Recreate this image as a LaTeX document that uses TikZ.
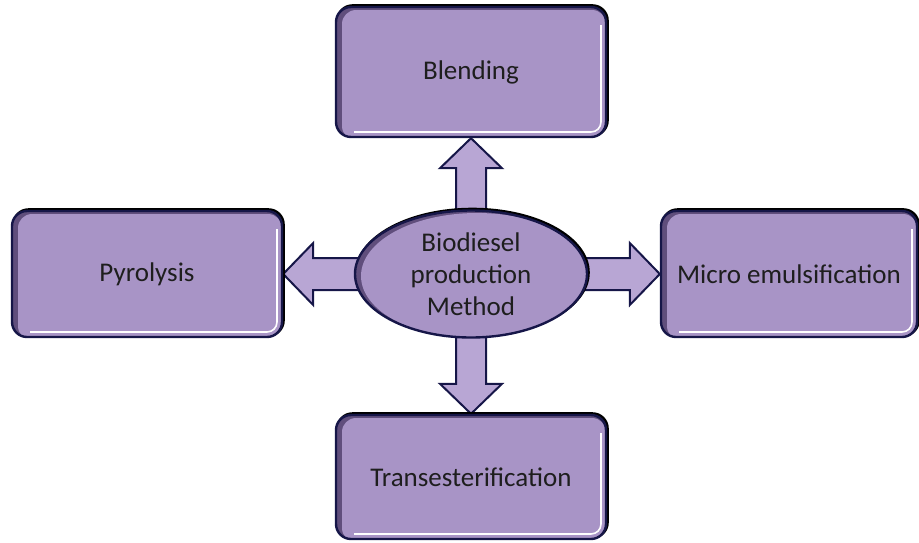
\documentclass[tikz,border=0pt]{standalone}
\usepackage{fontspec}
\setmainfont{Carlito}
\usetikzlibrary{shapes.geometric,backgrounds,calc}

\definecolor{boxfill}{RGB}{168,148,198}
\definecolor{arrowfill}{RGB}{184,166,212}
\definecolor{boxline}{RGB}{22,22,72}
\definecolor{boxshade}{RGB}{96,78,124}
\definecolor{labeltext}{RGB}{30,30,30}

\tikzset{
  methodbox/.style={draw=boxline, line width=2.4pt, fill=boxfill, rounded corners=15pt,
    minimum width=270pt, minimum height=126pt, inner sep=0pt, text=labeltext,
    font=\fontsize{27}{32}\selectfont,
    preaction={draw=black, line width=2.6pt, transform canvas={xshift=1.5pt,yshift=1.5pt}},
    path picture={
      % dark rim on the left, white rim on the right and bottom
      \fill[boxshade] (path picture bounding box.south west) rectangle (path picture bounding box.north east);
      \fill[boxfill, rounded corners=14pt] ([xshift=6pt,yshift=-3pt]path picture bounding box.south west)
        rectangle ([yshift=-3pt]path picture bounding box.north east);
      \draw[white, line width=1.6pt, rounded corners=10pt]
        ([xshift=-5pt,yshift=-18pt]path picture bounding box.north east)
        -- ([xshift=-5pt,yshift=5pt]path picture bounding box.south east)
        -- ([xshift=18pt,yshift=5pt]path picture bounding box.south west);
    }},
  centre/.style={ellipse, draw=boxline, line width=2.4pt, fill=boxfill,
    minimum width=232pt, minimum height=127pt, inner sep=0pt, align=center,
    text=labeltext, font=\fontsize{27}{32}\selectfont,
    preaction={draw=black, line width=2.6pt, transform canvas={xshift=1.5pt,yshift=1.5pt}},
    path picture={
      \fill[boxshade] (path picture bounding box.south west) rectangle (path picture bounding box.north east);
      \fill[boxfill] ([xshift=6pt,yshift=-2pt]path picture bounding box.center) ellipse (116pt and 63pt);
    }},
  fatarrow/.style={fill=arrowfill, draw=boxline, line width=2pt, line join=miter},
}

\begin{document}
\begin{tikzpicture}[x=1pt, y=-1pt]
  \useasboundingbox (0,0) rectangle (919,542);

  % the four methods round the centre
  \node[methodbox, minimum height=130pt] (blend) at (471,72) {Blending};
  \node[methodbox] (pyro) at (147,274) {Pyrolysis};
  \node[methodbox, minimum width=256pt] (micro) at (789,274) {Micro emulsification};
  \node[methodbox, minimum height=124pt] (trans) at (471,477) {Transesterification};

  \node[centre] (core) at (471,274) {Biodiesel\\production\\Method};

  % block arrows, drawn under the ellipse
  \begin{scope}[on background layer]
    % up
    \draw[fatarrow] ([xshift=-15pt,yshift=-8pt]core.north)
      -- ([xshift=-15pt,yshift=-30pt]blend.south) -- ([xshift=-31pt,yshift=-30pt]blend.south)
      -- (blend.south)
      -- ([xshift=31pt,yshift=-30pt]blend.south) -- ([xshift=15pt,yshift=-30pt]blend.south)
      -- ([xshift=15pt,yshift=-8pt]core.north) -- cycle;
    % down
    \draw[fatarrow] ([xshift=-15pt,yshift=8pt]core.south)
      -- ([xshift=-15pt,yshift=30pt]trans.north) -- ([xshift=-31pt,yshift=30pt]trans.north)
      -- (trans.north)
      -- ([xshift=31pt,yshift=30pt]trans.north) -- ([xshift=15pt,yshift=30pt]trans.north)
      -- ([xshift=15pt,yshift=8pt]core.south) -- cycle;
    % left
    \draw[fatarrow] ([xshift=8pt,yshift=16pt]core.west)
      -- ([xshift=30pt,yshift=16pt]pyro.east) -- ([xshift=30pt,yshift=31pt]pyro.east)
      -- (pyro.east)
      -- ([xshift=30pt,yshift=-31pt]pyro.east) -- ([xshift=30pt,yshift=-16pt]pyro.east)
      -- ([xshift=8pt,yshift=-16pt]core.west) -- cycle;
    % right
    \draw[fatarrow] ([xshift=-8pt,yshift=16pt]core.east)
      -- ([xshift=-30pt,yshift=16pt]micro.west) -- ([xshift=-30pt,yshift=31pt]micro.west)
      -- (micro.west)
      -- ([xshift=-30pt,yshift=-31pt]micro.west) -- ([xshift=-30pt,yshift=-16pt]micro.west)
      -- ([xshift=-8pt,yshift=-16pt]core.east) -- cycle;
  \end{scope}
\end{tikzpicture}
\end{document}
